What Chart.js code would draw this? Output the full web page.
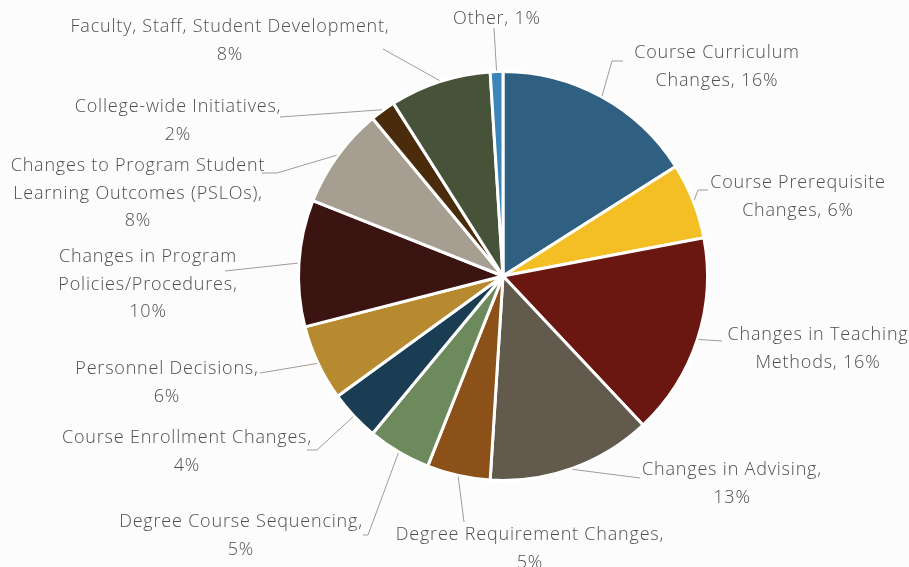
<!DOCTYPE html>
<html>
<head>
<meta charset="utf-8">
<script src="https://cdn.jsdelivr.net/npm/chart.js@4/dist/chart.umd.min.js"></script>
<style>
  html, body { margin: 0; padding: 0; background: #fcfcfc; }
  #wrap { width: 909px; height: 567px; position: relative; }
</style>
</head>
<body>
<div id="wrap"><canvas id="canvas" width="909" height="567"></canvas></div>
<script>
// categories, clockwise from 12 o'clock ('|' = line break in the label)
const categories = [
  'Course Curriculum|Changes',
  'Course Prerequisite|Changes',
  'Changes in Teaching|Methods',
  'Changes in Advising',
  'Degree Requirement Changes',
  'Degree Course Sequencing',
  'Course Enrollment Changes',
  'Personnel Decisions',
  'Changes in Program|Policies/Procedures',
  'Changes to Program Student|Learning Outcomes (PSLOs)',
  'College-wide Initiatives',
  'Faculty, Staff, Student Development',
  'Other'
];
const percents = [16, 6, 16, 13, 5, 5, 4, 6, 10, 8, 2, 8, 1];
// does the percent go on its own line?
const pctOnNewLine = [false, false, false, true, true, true, true, true, true, true, true, true, false];

const colors = ['#2f5f81', '#f3bf24', '#6a1611', '#625a4c', '#8c5019', '#6c8a5b', '#1b3d53',
                '#b78a2f', '#3b1310', '#a69e90', '#4a2b0c', '#465339', '#3b86b9'];

// label placement: text centre x, first line y, leader points next to the text
const labelLayout = [
  { x: 717, y: 53,  pts: [[623, 61], [612, 61]] },
  { x: 798, y: 183, pts: [[708, 190], [698, 190]] },
  { x: 818, y: 335, pts: [[722, 341]] },
  { x: 732, y: 470, pts: [[640, 478]] },
  { x: 530, y: 535, pts: [[464, 522]] },
  { x: 241, y: 522, pts: [[363, 535], [368, 535]] },
  { x: 187, y: 438, pts: [[307, 450], [317, 450]] },
  { x: 167, y: 369, pts: [[260, 373]] },
  { x: 148, y: 257, pts: [[225, 271]] },
  { x: 138, y: 166, pts: [[262, 173], [277, 173]] },
  { x: 178, y: 107, pts: [[280, 117]] },
  { x: 230, y: 27,  pts: [[383, 49]] },
  { x: 497, y: 19,  pts: [[494, 28]] }
];

function labelLines(i) {
  let parts = categories[i].split('|');
  let pct = percents[i] + '%';
  if (pctOnNewLine[i]) {
    parts[parts.length - 1] += ',';
    parts.push(pct);
  } else {
    parts[parts.length - 1] += ', ' + pct;
  }
  return parts;
}

const calloutPlugin = {
  id: 'callouts',
  afterDatasetsDraw(chart) {
    const ctx = chart.ctx;
    const meta = chart.getDatasetMeta(0);
    ctx.save();
    meta.data.forEach(function(arc, i) {
      const p = arc.getProps(['x', 'y', 'startAngle', 'endAngle', 'outerRadius'], true);
      const mid = (p.startAngle + p.endAngle) / 2;
      const r = p.outerRadius + 1;
      const ax = p.x + Math.cos(mid) * r;
      const ay = p.y + Math.sin(mid) * r;
      const lay = labelLayout[i];

      ctx.strokeStyle = '#a39a93';
      ctx.lineWidth = 1;
      ctx.beginPath();
      ctx.moveTo(lay.pts[0][0], lay.pts[0][1]);
      for (let k = 1; k < lay.pts.length; k++) ctx.lineTo(lay.pts[k][0], lay.pts[k][1]);
      ctx.lineTo(ax, ay);
      ctx.stroke();

      ctx.fillStyle = '#524d4d';
      ctx.font = '300 18px "Open Sans", sans-serif';
      ctx.letterSpacing = '0.8px';
      ctx.textAlign = 'center';
      ctx.textBaseline = 'middle';
      labelLines(i).forEach(function(line, k) {
        ctx.fillText(line, lay.x, lay.y + k * 27.5);
      });
    });
    ctx.restore();
  }
};

let options = {
  type: 'pie',
  data: {
    labels: categories.map(c => c.replace('|', ' ')),
    datasets: [{
      data: percents,
      backgroundColor: colors,
      borderColor: '#ffffff',
      borderWidth: 3,
      hoverBorderWidth: 3
    }]
  },
  options: {
    responsive: false,
    animation: false,
    layout: { padding: { left: 297, right: 200, top: 67, bottom: 82 } },
    plugins: {
      legend: { display: false },
      tooltip: { enabled: false }
    }
  },
  plugins: [calloutPlugin]
};

let chart = new Chart(document.getElementById('canvas'), options);
</script>
</body>
</html>
